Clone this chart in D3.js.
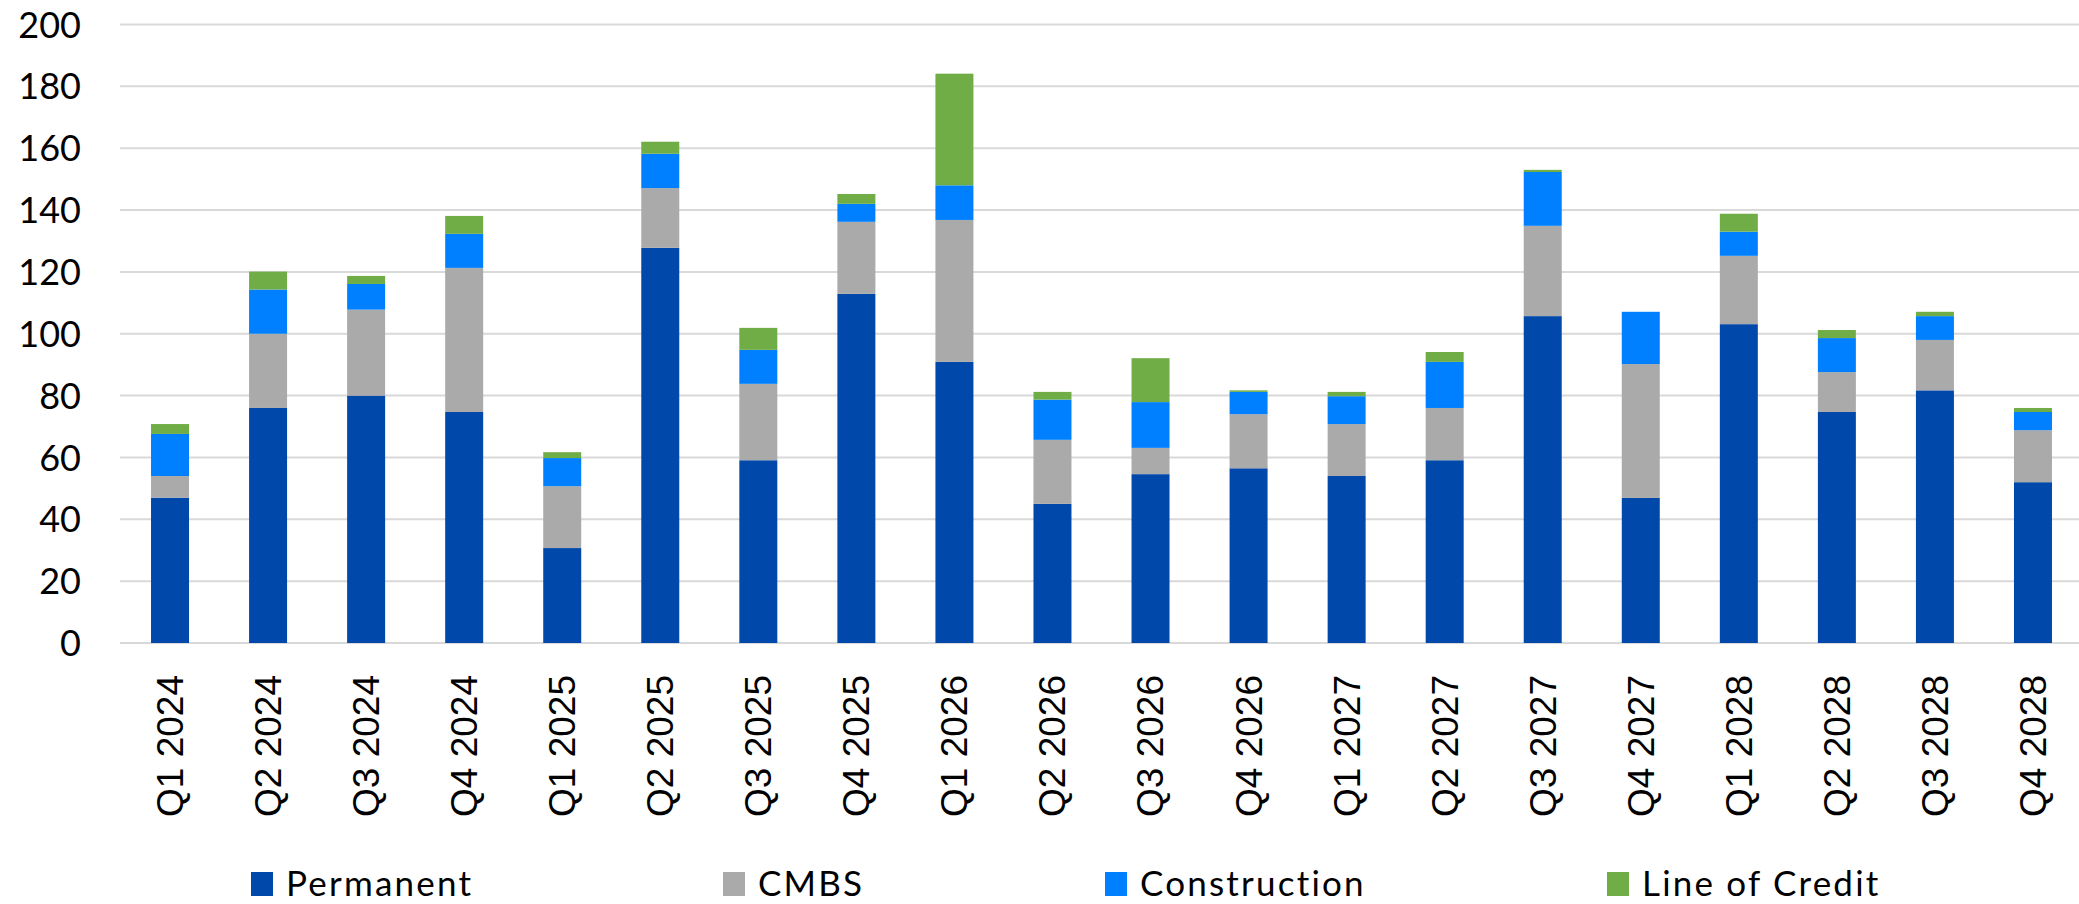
<!DOCTYPE html>
<html>
<head>
<meta charset="utf-8">
<script src="https://cdn.jsdelivr.net/npm/d3@7"></script>
<style>
  html, body { margin: 0; padding: 0; background: #ffffff; }
  svg { display: block; }
</style>
</head>
<body>
<svg id="chart" width="2079" height="904"></svg>
<script>
const categories = ["Q1 2024","Q2 2024","Q3 2024","Q4 2024","Q1 2025","Q2 2025","Q3 2025","Q4 2025","Q1 2026","Q2 2026","Q3 2026","Q4 2026","Q1 2027","Q2 2027","Q3 2027","Q4 2027","Q1 2028","Q2 2028","Q3 2028","Q4 2028"];
const seriesNames = ["Permanent","CMBS","Construction","Line of Credit"];
const permanent    = [47, 76, 80, 74.7, 30.7, 127.8, 59.1, 112.9, 90.9, 45.0, 54.6, 56.5, 54.0, 59.1, 105.7, 46.9, 103.1, 74.7, 81.7, 52.0];
const cmbs         = [7, 24, 27.8, 46.6, 20, 19.3, 24.7, 23.3, 45.9, 20.7, 8.5, 17.5, 16.8, 16.9, 29.2, 43.3, 22.1, 12.9, 16.3, 16.8];
const construction = [13.6, 14.3, 8.3, 11, 9.1, 11.1, 11, 5.8, 11.2, 13, 14.8, 7.2, 9, 14.9, 17.4, 16.9, 7.8, 11, 7.7, 5.9];
const lineOfCredit = [3.2, 5.8, 2.6, 5.8, 1.9, 3.9, 7.1, 3.2, 36.1, 2.5, 14.2, 0.5, 1.4, 3.2, 0.7, 0, 5.8, 2.6, 1.4, 1.3];
const yTicks = [0, 20, 40, 60, 80, 100, 120, 140, 160, 180, 200];
const colors = ["#0048AA", "#AAAAAA", "#0080FF", "#70AD47"];

const seriesValues = [permanent, cmbs, construction, lineOfCredit];
const keys = ["p", "c", "k", "l"];
const rows = categories.map((c, i) => {
  const r = { cat: c };
  keys.forEach((k, j) => r[k] = seriesValues[j][i]);
  return r;
});

const svg = d3.select("#chart");
const x = d3.scaleBand().domain(categories).range([121, 2082]).paddingInner(0.6125).paddingOuter(0.30625);
const y = d3.scaleLinear().domain([0, 200]).range([643, 24.5]);

// gridlines
svg.append("g").selectAll("line").data(yTicks).join("line")
  .attr("x1", 120).attr("x2", 2079)
  .attr("y1", d => y(d)).attr("y2", d => y(d))
  .attr("stroke", "#D9D9D9").attr("stroke-width", 2);

// y tick labels
const yAxis = d3.axisLeft(y).tickValues(yTicks).tickSize(0).tickPadding(0);
const yg = svg.append("g").attr("transform", "translate(81,0)").call(yAxis);
yg.select(".domain").remove();
yg.selectAll("text").attr("font-family", "Lato, 'Open Sans', sans-serif").attr("font-size", 36).attr("fill", "#000").attr("dy", "0.35em");

// bars
const stack = d3.stack().keys(keys);
const stacked = stack(rows);
svg.append("g").selectAll("g").data(stacked).join("g")
  .attr("fill", (d, i) => colors[i])
  .selectAll("rect").data(d => d).join("rect")
  .attr("x", d => x(d.data.cat))
  .attr("width", x.bandwidth())
  .attr("y", d => y(d[1]))
  .attr("height", d => Math.max(0, y(d[0]) - y(d[1])));

// x axis labels
const xAxis = d3.axisBottom(x).tickSize(0).tickPadding(0);
const xg = svg.append("g").attr("transform", "translate(0,675)").call(xAxis);
xg.select(".domain").remove();
xg.selectAll("text")
  .attr("font-family", "'Liberation Sans', Arial, sans-serif").attr("font-size", 37).attr("fill", "#000")
  .attr("transform", "rotate(-90)")
  .attr("text-anchor", "end")
  .attr("x", 0).attr("y", 0).attr("dy", "0.35em");

// legend
const legendX = [251, 723, 1105, 1607];
const lg = svg.append("g").selectAll("g").data(seriesNames).join("g")
  .attr("transform", (d, i) => `translate(${legendX[i]},872)`);
lg.append("rect").attr("width", 22).attr("height", 24).attr("fill", (d, i) => colors[i]);
lg.append("text").attr("x", 35).attr("y", 24)
  .attr("font-family", "Lato, 'Open Sans', sans-serif").attr("font-size", 35)
  .attr("letter-spacing", 2.2).attr("fill", "#000")
  .text(d => d);
</script>
</body>
</html>
